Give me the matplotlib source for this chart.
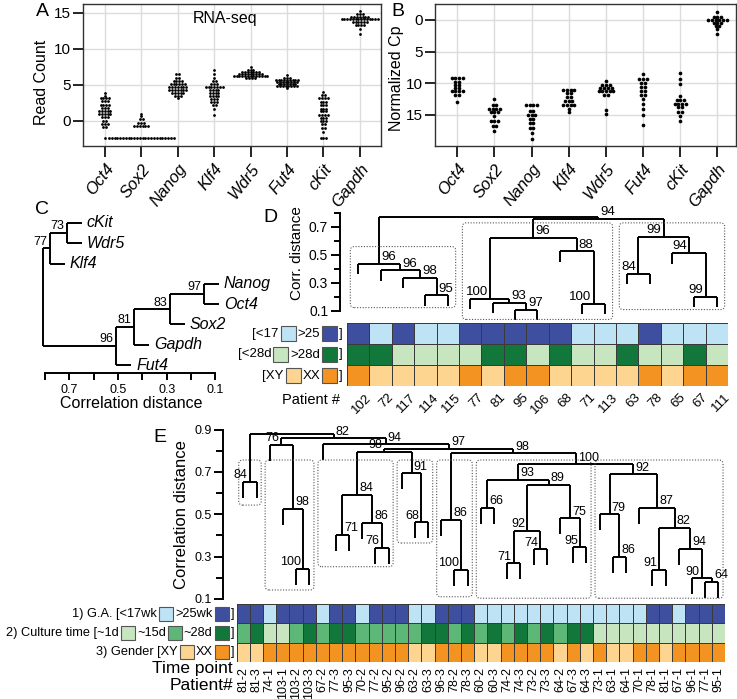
import numpy as np
import matplotlib
matplotlib.use("Agg")
import matplotlib.pyplot as plt
from matplotlib.patches import Rectangle, FancyBboxPatch
from matplotlib.colors import ListedColormap
from matplotlib.transforms import ScaledTranslation, IdentityTransform

plt.rcParams["font.family"] = ["Liberation Sans", "DejaVu Sans"]

W, H = 737, 699

# ---------------- data ----------------
genes = ["Oct4", "Sox2", "Nanog", "Klf4", "Wdr5", "Fut4", "cKit", "Gapdh"]

# A: RNA-seq read counts (log scale), 37 samples per gene
rna_oct4 = [3.8, 3.5, 3.2, 3.2, 3.2, 3.2, 2.7, 2.7, 2.7, 2.2, 2.2, 2.2, 2.2, 1.8, 1.8, 1.8,
            1.4, 1.4, 1.4, 1.4, 1.4, 1.0, 1.0, 1.0, 1.0, 1.0, 0.5, 0.5, 0.5, 0.0, 0.0,
            -0.4, -0.4, -0.4, -0.8, -0.8, -2.4]
rna_sox2 = [1.0, 0.6, 0.2, 0.2, -0.3, -0.3, -0.3, -0.7, -0.7, -0.7, -0.7, -0.7, -0.7,
            -2.4, -2.4, -2.4, -2.4, -2.4, -2.4, -2.4, -2.4, -2.4, -2.4, -2.4, -2.4,
            -2.4, -2.4, -2.4, -2.4, -2.4, -2.4, -2.4, -2.4, -2.4, -2.4, -2.4, -2.4]
rna_nanog = [6.5, 6.5, 6.0, 6.0, 5.5, 5.5, 5.5, 5.5, 5.1, 5.1, 5.1, 5.1, 5.1, 5.1,
             4.7, 4.7, 4.7, 4.7, 4.7, 4.7, 4.7, 4.3, 4.3, 4.3, 4.3, 4.3, 4.3, 4.3,
             3.9, 3.9, 3.9, 3.9, 3.9, 3.5, 3.5, 3.5, 3.1]
rna_klf4 = [7.0, 6.5, 6.0, 5.5, 5.5, 5.1, 5.1, 5.1, 4.7, 4.7, 4.7, 4.7, 4.7, 4.7, 4.7,
            4.3, 4.3, 4.3, 4.3, 3.9, 3.9, 3.9, 3.9, 3.5, 3.5, 3.5, 3.5, 3.0, 3.0, 3.0,
            2.6, 2.6, 2.6, 2.2, 2.2, 1.7, 0.8]
rna_wdr5 = [7.4, 7.1, 7.1, 7.1, 6.8, 6.8, 6.8, 6.8, 6.8, 6.8, 6.8,
            6.5, 6.5, 6.5, 6.5, 6.5, 6.5, 6.5, 6.5, 6.5,
            6.2, 6.2, 6.2, 6.2, 6.2, 6.2, 6.2, 6.2, 6.2, 6.2, 6.2, 6.2, 6.2,
            5.9, 5.9, 5.9, 5.9]
rna_fut4 = [6.4, 6.0, 6.0, 6.0, 5.7, 5.7, 5.7, 5.7, 5.7, 5.7, 5.7, 5.7, 5.7,
            5.4, 5.4, 5.4, 5.4, 5.4, 5.4, 5.4, 5.4, 5.1, 5.1, 5.1, 5.1, 5.1, 5.1, 5.1,
            4.8, 4.8, 4.8, 4.8, 4.8, 4.8, 4.8, 4.8, 4.5]
rna_ckit = [4.0, 3.6, 3.6, 3.1, 3.1, 3.1, 3.1, 2.6, 2.6, 2.6, 2.2, 2.2, 2.2, 1.7, 1.7, 1.7,
            1.3, 1.3, 1.3, 0.8, 0.8, 0.8, 0.8, 0.4, 0.4, 0.4, 0.0, 0.0, 0.0,
            -0.5, -0.5, -1.0, -1.0, -1.5, -2.4, -2.4, -2.4]
rna_gapdh = [15.2, 14.8, 14.8, 14.8, 14.4, 14.4, 14.4, 14.4, 14.4, 14.4, 14.4,
             14.1, 14.1, 14.1, 14.1, 14.1, 14.1, 14.1, 14.1, 14.1, 14.1, 14.1, 14.1, 14.1, 14.1,
             13.7, 13.7, 13.7, 13.7, 13.7, 13.7, 13.3, 13.3, 13.3, 13.3, 12.8, 12.0]
rna_counts = [rna_oct4, rna_sox2, rna_nanog, rna_klf4, rna_wdr5, rna_fut4, rna_ckit, rna_gapdh]

# B: qPCR normalized Cp, 17 patients per gene
cp_oct4 = [9.2, 9.2, 9.2, 9.2, 9.8, 9.8, 10.3, 10.3, 10.8, 10.8, 11.2, 11.2, 11.2, 11.2, 11.8, 11.8, 13.0]
cp_sox2 = [12.5, 13.4, 13.4, 14.0, 14.0, 14.0, 14.0, 14.6, 14.6, 14.6, 15.2, 16.0, 16.0, 16.0, 16.8, 16.8, 17.5]
cp_nanog = [13.5, 13.5, 13.5, 13.5, 14.3, 14.3, 15.0, 15.0, 15.0, 15.6, 15.6, 16.2, 16.2, 17.0, 17.0, 17.8, 18.8]
cp_klf4 = [11.0, 11.0, 11.0, 11.0, 11.6, 11.6, 12.2, 12.2, 12.8, 12.8, 12.8, 13.4, 13.4, 13.4, 13.4, 14.0, 14.6]
cp_wdr5 = [9.6, 10.2, 10.2, 10.2, 10.8, 10.8, 10.8, 10.8, 11.3, 11.3, 11.3, 11.3, 11.3, 11.8, 11.8, 14.2, 14.8]
cp_fut4 = [8.5, 9.4, 9.4, 9.4, 10.0, 10.0, 10.6, 10.6, 11.2, 11.2, 11.8, 11.8, 12.5, 13.2, 14.0, 15.0, 16.6]
cp_ckit = [8.4, 9.3, 10.1, 12.0, 12.6, 12.6, 12.6, 13.2, 13.2, 13.2, 13.2, 13.8, 13.8, 14.5, 14.5, 15.2, 16.0]
cp_gapdh = [-1.2, -0.5, -0.5, -0.5, 0.0, 0.0, 0.0, 0.0, 0.0, 0.0, 0.5, 0.5, 0.5, 1.0, 1.0, 1.5, 2.2]
cp_values = [cp_oct4, cp_sox2, cp_nanog, cp_klf4, cp_wdr5, cp_fut4, cp_ckit, cp_gapdh]

# C: gene clustering (merge table: left child, right child, distance, bootstrap)
c_leaves = ["cKit", "Wdr5", "Klf4", "Nanog", "Oct4", "Sox2", "Gapdh", "Fut4"]
c_left = [0, 8, 3, 10, 11, 12, 9]
c_right = [1, 2, 4, 5, 6, 7, 13]
c_height = [0.71, 0.78, 0.147, 0.287, 0.435, 0.508, 0.81]
c_boot = [73, 77, 97, 83, 81, 96, None]

# D: patient clustering
d_patients = ["102", "72", "117", "114", "115", "77", "81", "95", "106", "68",
              "71", "113", "63", "78", "65", "67", "111"]
d_left = [3, 2, 1, 0, 7, 6, 5, 10, 9, 23, 15, 14, 12, 29, 26, 20]
d_right = [4, 17, 18, 19, 8, 21, 22, 11, 24, 25, 16, 27, 13, 28, 30, 31]
d_height = [0.209, 0.334, 0.388, 0.434, 0.107, 0.155, 0.186, 0.148, 0.524, 0.624,
            0.198, 0.512, 0.364, 0.631, 0.757, 0.774]
d_boot = [95, 98, 96, 96, 97, 93, 100, 100, 88, 96, 99, 94, 84, 99, 94, None]
d_ga = [1, 0, 1, 0, 0, 1, 1, 1, 1, 1, 0, 0, 0, 1, 0, 0, 0]
d_culture = [1, 1, 0, 0, 0, 0, 1, 1, 0, 1, 0, 0, 1, 0, 0, 1, 0]
d_gender = [1, 0, 0, 0, 0, 1, 0, 1, 1, 0, 0, 0, 0, 1, 0, 1, 1]

# E: sample clustering
e_samples = ["81-2", "81-3", "74-1", "103-1", "103-2", "103-3", "67-2", "77-3", "95-3", "70-2",
             "77-2", "95-2", "96-2", "63-2", "63-3", "96-3", "78-2", "78-3", "60-2", "60-3",
             "74-2", "74-3", "73-2", "73-3", "64-2", "67-3", "64-3", "73-1", "63-1", "64-1",
             "70-1", "78-1", "81-1", "67-1", "96-1", "77-1", "95-1"]
e_left = [35, 34, 33, 31, 40, 30, 28, 27, 44, 25, 24, 22, 20, 49, 50, 18, 52, 53,
          16, 15, 56, 13, 12, 10, 9, 7, 62, 63, 64, 6, 4, 3, 2, 69, 0, 71]
e_right = [36, 37, 38, 32, 39, 41, 29, 43, 42, 26, 46, 23, 21, 48, 47, 19, 51, 45,
           17, 55, 54, 14, 58, 11, 60, 8, 61, 59, 57, 65, 5, 67, 68, 66, 1, 70]
e_height = [0.181, 0.197, 0.336, 0.236, 0.436, 0.531, 0.299, 0.500, 0.688, 0.344,
            0.481, 0.334, 0.268, 0.421, 0.638, 0.531, 0.661, 0.736, 0.236, 0.473,
            0.788, 0.462, 0.693, 0.342, 0.460, 0.402, 0.591, 0.795, 0.808, 0.830,
            0.241, 0.524, 0.827, 0.858, 0.653, 0.879]
e_boot = [64, 90, 94, 91, 82, 87, 86, 79, 92, 95, 75, 74, 71, 92, 89, 66, 93, 100,
          100, 86, 98, 68, 91, 76, 86, 71, 84, 98, 97, 94, 100, 98, 76, 82, 84, None]
e_ga = [1, 1, 0, 1, 1, 1, 0, 1, 1, 0, 1, 1, 1, 0, 0, 1, 1, 1, 0, 0,
        0, 0, 0, 0, 0, 0, 0, 0, 0, 0, 0, 1, 1, 0, 1, 1, 1]
e_culture = [1, 2, 0, 0, 1, 2, 1, 2, 2, 1, 1, 1, 1, 1, 2, 2, 1, 2, 1, 2,
             1, 2, 1, 2, 1, 2, 2, 0, 0, 0, 0, 0, 0, 0, 0, 0, 0]
e_gender = [0, 0, 1, 1, 1, 1, 1, 1, 1, 1, 1, 1, 1, 0, 0, 1, 1, 1, 0, 0,
            1, 1, 1, 1, 0, 1, 0, 1, 0, 0, 1, 1, 0, 1, 1, 1, 1]

# ---------------- style / layout ----------------
GA = ["#bde3f4", "#3f4fa0"]
CU2 = ["#c7e5be", "#12773a"]
CU3 = ["#c7e5be", "#5db878", "#12773a"]
GE = ["#fdd590", "#f39322"]
d_side = "RRRRRRLLRRLLLLR-"
e_side = "RLRLRRRRRLRLLLRRRRLRRLRLRRRLRRLRLRL-"
d_boxes = [(0, 4, 0.121, 0.559), (5, 11, 0.036, 0.729), (12, 16, 0.107, 0.729)]
e_boxes = [(0, 1, 0.543), (2, 5, 0.142), (6, 11, 0.252), (12, 14, 0.364),
           (15, 17, 0.110), (18, 26, 0.103), (27, 36, 0.103)]

fig = plt.figure(figsize=(W / 100, H / 100), dpi=100)


def box_px(x0, y0, x1, y1):
    return [x0 / W, 1 - y1 / H, (x1 - x0) / W, (y1 - y0) / H]


def ftext(x, y, s, **kw):
    return fig.text(x / W, 1 - y / H, s, **kw)


def dot_panel(ax, data, dx, s):
    for i, vals in enumerate(data):
        vals = np.array(vals)
        for v in np.unique(vals):
            k = int(np.sum(vals == v))
            xs = i + (np.arange(k) - (k - 1) / 2) * dx
            ax.scatter(xs, [v] * k, s=s, color="black", linewidths=0, zorder=3)


def style_dot_axes(ax):
    ax.set_xticks(range(len(genes)))
    ax.set_xticklabels(genes, rotation=52, ha="right", va="top", rotation_mode="anchor",
                       fontstyle="italic", fontsize=12)
    ax.grid(True, color="#dcdcdc", lw=1.0)
    ax.set_axisbelow(True)
    for sp in ax.spines.values():
        sp.set_color("#333333")
        sp.set_linewidth(1.0)
    ax.tick_params(axis="y", length=7, width=1.2, labelsize=11, pad=2)
    ax.tick_params(axis="x", length=8, width=1.2, pad=3)


def draw_tree(ax, left, right, height, boot, side, leaf_pos, stub, horizontal=False,
              lw=1.4, fs=9):
    n = len(leaf_pos)
    pos = list(leaf_pos)
    leaf_end = [None] * n

    def seg(p0, h0, p1, h1):
        if horizontal:
            ax.plot([h0, h1], [p0, p1], color="black", lw=lw, solid_capstyle="butt")
        else:
            ax.plot([p0, p1], [h0, h1], color="black", lw=lw, solid_capstyle="butt")

    for k in range(len(left)):
        a, b, h = left[k], right[k], height[k]
        for c in (a, b):
            if c >= n:
                hc = height[c - n]
            else:
                hc = h - stub
                leaf_end[c] = hc
            seg(pos[c], hc, pos[c], h)
        seg(pos[a], h, pos[b], h)
        pos.append((pos[a] + pos[b]) / 2)
        if boot[k] is None:
            continue
        if horizontal:
            ax.annotate(str(boot[k]), (h, pos[-1]), xytext=(-2, 0.5), textcoords="offset points",
                        ha="right", va="bottom", fontsize=fs)
        else:
            dx = 1.5 if side[k] == "R" else -1.5
            ax.annotate(str(boot[k]), (pos[-1], h), xytext=(dx, 0.5), textcoords="offset points",
                        ha="left" if side[k] == "R" else "right", va="bottom", fontsize=fs)
    return leaf_end


def dotted_boxes(ax, specs, top=None):
    for spec in specs:
        i0, i1, bot = spec[0], spec[1], spec[2]
        t = spec[3] if len(spec) > 3 else top
        (x0, y0) = ax.transData.transform((i0 + 0.15, bot))
        (x1, y1) = ax.transData.transform((i1 + 0.85, t))
        fig.add_artist(FancyBboxPatch((x0, y0), x1 - x0, y1 - y0,
                                      boxstyle="round,pad=0,rounding_size=4",
                                      transform=IdentityTransform(), fill=False,
                                      ec="#555555", lw=0.8, ls=(0, (1, 1.5))))


def heat_row(ax, r, codes, colors):
    cmap = ListedColormap(colors)
    ax.pcolormesh(np.arange(len(codes) + 1), [r, r + 1], np.array([codes]), cmap=cmap,
                  vmin=-0.5, vmax=len(colors) - 0.5, edgecolors="#3a3a3a", linewidth=0.6)


def key_row(x_right, y, parts, fs, box=15, gap=2.5):
    r = fig.canvas.get_renderer()
    x = x_right
    for p in reversed(parts):
        if p.startswith("#"):
            x -= box
            fig.add_artist(Rectangle((x / W, 1 - (y + box / 2) / H), box / W, box / H,
                                     transform=fig.transFigure, fc=p, ec="#555555", lw=0.8))
        else:
            t = ftext(x, y, p, ha="right", va="center", fontsize=fs)
            x -= t.get_window_extent(r).width
        x -= gap


# ---------------- A ----------------
ax_a = fig.add_axes(box_px(83, 4, 381, 146))
dot_panel(ax_a, rna_counts, 0.077, 4)
ax_a.set_xlim(-0.6, 7.58)
ax_a.set_ylim(-3.5, 16.2)
ax_a.set_yticks([0, 5, 10, 15])
style_dot_axes(ax_a)
ax_a.text(0.477, 0.90, "RNA-seq", transform=ax_a.transAxes, ha="center", va="center",
          fontsize=11.5)
ftext(41, 82, "Read Count", rotation=90, ha="center", va="center", fontsize=11.5)
ftext(42, 12, "A", ha="center", va="center", fontsize=14)

# ---------------- B ----------------
ax_b = fig.add_axes(box_px(435, 4, 736, 146))
dot_panel(ax_b, cp_values, 0.1, 7)
ax_b.set_xlim(-0.6, 7.5)
ax_b.set_ylim(19.9, -2.5)
ax_b.set_yticks([0, 5, 10, 15])
style_dot_axes(ax_b)
ftext(397, 78, "Normalized Cp", rotation=90, ha="center", va="center", fontsize=11.5)
ftext(398, 12, "B", ha="center", va="center", fontsize=14)

# ---------------- C ----------------
ax_c = fig.add_axes(box_px(38, 213, 230, 373))
ends = draw_tree(ax_c, c_left, c_right, c_height, c_boot, None, list(range(8)), 0.062,
                 horizontal=True, fs=9)
for i, name in enumerate(c_leaves):
    ax_c.annotate(name, (ends[i], i), xytext=(3.5, 0), textcoords="offset points",
                  ha="left", va="center", fontsize=11.5, fontstyle="italic")
ax_c.set_xlim(0.829, 0.040)
ax_c.set_ylim(7.39, -0.49)
for s in ("top", "left", "right"):
    ax_c.spines[s].set_visible(False)
ax_c.spines["bottom"].set_bounds(0.1, 0.8)
ax_c.spines["bottom"].set_linewidth(1.4)
ax_c.set_yticks([])
ax_c.set_xticks([0.7, 0.5, 0.3, 0.1])
ax_c.set_xticklabels(["0.7", "0.5", "0.3", "0.1"])
ax_c.set_xticks([0.8, 0.6, 0.4, 0.2], minor=True)
ax_c.tick_params(axis="x", which="both", length=5, width=1.4, labelsize=9, pad=3)
ftext(131, 403, "Correlation distance", ha="center", va="center", fontsize=11.5)
ftext(42, 209, "C", ha="center", va="center", fontsize=14)

# ---------------- D ----------------
ax_dd = fig.add_axes(box_px(340, 206, 728, 321))
draw_tree(ax_dd, d_left, d_right, d_height, d_boot, d_side,
          list(np.arange(len(d_patients)) + 0.5), 0.075, fs=9.5)
ax_dd.set_xlim(-0.31, 17)
ax_dd.set_ylim(0.025, 0.85)
dotted_boxes(ax_dd, d_boxes)
for s in ("top", "bottom", "right"):
    ax_dd.spines[s].set_visible(False)
ax_dd.spines["left"].set_bounds(0.1, 0.8)
ax_dd.spines["left"].set_linewidth(1.4)
ax_dd.set_xticks([])
ax_dd.set_yticks([0.7, 0.5, 0.3, 0.1])
ax_dd.set_yticklabels(["0.7", "0.5", "0.3", "0.1"])
ax_dd.set_yticks([0.8, 0.6, 0.4, 0.2], minor=True)
ax_dd.tick_params(axis="y", which="major", length=6.5, width=1.4, labelsize=10, pad=2)
ax_dd.tick_params(axis="y", which="minor", length=4, width=1.4)
ftext(297, 253, "Corr. distance", rotation=90, ha="center", va="center", fontsize=11)
ftext(270, 218, "D", ha="center", va="center", fontsize=14)

ax_dh = fig.add_axes(box_px(347, 323, 728, 386))
heat_row(ax_dh, 0, d_ga, GA)
heat_row(ax_dh, 1, d_culture, CU2)
heat_row(ax_dh, 2, d_gender, GE)
ax_dh.set_xlim(0, len(d_patients))
ax_dh.set_ylim(3, 0)
for sp in ax_dh.spines.values():
    sp.set_visible(False)
ax_dh.set_yticks([])
ax_dh.set_xticks(np.arange(len(d_patients)) + 0.5)
ax_dh.set_xticklabels(d_patients, rotation=45, ha="right", va="top", rotation_mode="anchor",
                      fontsize=9.5)
ax_dh.tick_params(axis="x", length=0, pad=4)
for lab in ax_dh.get_xticklabels():
    lab.set_transform(lab.get_transform() + ScaledTranslation(0.07, 0, fig.dpi_scale_trans))
ftext(340, 400, "Patient #", ha="right", va="center", fontsize=10.5)
key_row(343, 333.5, ["[<17", GA[0], ">25", GA[1], "]"], 9.5, gap=2)
key_row(343, 354.5, ["[<28d", CU2[0], ">28d", CU2[1], "]"], 9.5, gap=2)
key_row(343, 375.5, ["[XY", GE[0], "XX", GE[1], "]"], 9.5, gap=2)

# ---------------- E ----------------
ax_ed = fig.add_axes(box_px(223.3, 425.3, 725, 603.1))
draw_tree(ax_ed, e_left, e_right, e_height, e_boot, e_side,
          list(np.arange(len(e_samples)) + 0.5), 0.075, fs=9)
ax_ed.set_xlim(-1.02, 37)
ax_ed.set_ylim(0.08, 0.92)
dotted_boxes(ax_ed, e_boxes, top=0.756)
for s in ("top", "bottom", "right"):
    ax_ed.spines[s].set_visible(False)
ax_ed.spines["left"].set_bounds(0.1, 0.9)
ax_ed.spines["left"].set_linewidth(1.4)
ax_ed.set_xticks([])
ax_ed.set_yticks([0.9, 0.7, 0.5, 0.3, 0.1])
ax_ed.set_yticklabels(["0.9", "0.7", "0.5", "0.3", "0.1"])
ax_ed.set_yticks([0.8, 0.6, 0.4, 0.2], minor=True)
ax_ed.tick_params(axis="y", which="major", length=6.5, width=1.4, labelsize=9, pad=2)
ax_ed.tick_params(axis="y", which="minor", length=5, width=1.4)
ftext(181, 515, "Correlation distance", rotation=90, ha="center", va="center", fontsize=12)
ftext(160, 437, "E", ha="center", va="center", fontsize=14)

ax_eh = fig.add_axes(box_px(236.7, 604.3, 725, 661.7))
heat_row(ax_eh, 0, e_ga, GA)
heat_row(ax_eh, 1, e_culture, CU3)
heat_row(ax_eh, 2, e_gender, GE)
ax_eh.set_xlim(0, len(e_samples))
ax_eh.set_ylim(3, 0)
for sp in ax_eh.spines.values():
    sp.set_visible(False)
ax_eh.set_yticks([])
ax_eh.set_xticks(np.arange(len(e_samples)) + 0.5)
ax_eh.set_xticklabels(e_samples, rotation=90, ha="center", va="top", fontsize=9)
ax_eh.tick_params(axis="x", length=0, pad=4)
ftext(233, 669, "Time point", ha="right", va="center", fontsize=12.5)
ftext(233, 685, "Patient#", ha="right", va="center", fontsize=12.5)
key_row(234, 614, ["1) G.A. [<17wk", GA[0], ">25wk", GA[1], "]"], 9.2, box=14, gap=2)
key_row(234, 633, ["2) Culture time [~1d", CU3[0], "~15d", CU3[1], "~28d", CU3[2], "]"],
        9.2, box=14, gap=2)
key_row(234, 652, ["3) Gender [XY", GE[0], "XX", GE[1], "]"], 9.2, box=14, gap=2)

fig.savefig("out.png", dpi=100)
